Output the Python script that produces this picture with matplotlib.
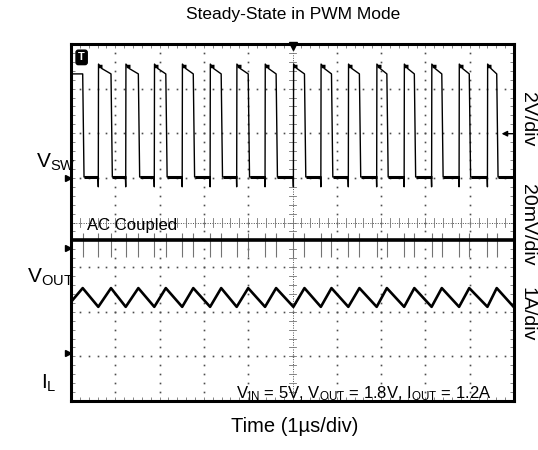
import numpy as np
import matplotlib
matplotlib.use('Agg')
import matplotlib.pyplot as plt

plt.rcParams['font.family'] = ['Liberation Sans', 'DejaVu Sans']
plt.rcParams['mathtext.fontset'] = 'custom'
plt.rcParams['mathtext.rm'] = 'Liberation Sans'
plt.rcParams['mathtext.it'] = 'Liberation Sans'

# Scope screen: 10 x 8 divisions, all values below are in divisions
N_XDIV, N_YDIV = 10, 8

# Switch node edges (time in div)
fall_edges = [0.264, 0.903, 1.52, 2.14, 2.76, 3.39, 4.00, 4.63, 5.27, 5.88,
              6.51, 7.13, 7.75, 8.37, 8.99, 9.61]
rise_edges = [0.616, 1.235, 1.88, 2.51, 3.14, 3.74, 4.38, 5.02, 5.64, 6.26,
              6.90, 7.52, 8.14, 8.76, 9.40]

# Trace levels (div)
VSW_LOW, VSW_DIP, VSW_PEAK, VSW_HIGH = 5.02, 4.80, 7.55, 7.33
VOUT_LEVEL, VOUT_SPIKE_LO, VOUT_SPIKE_HI = 3.61, 3.22, 3.76
IL_VALLEY, IL_PEAK, IL_START, IL_END = 2.11, 2.53, 2.22, 2.10

# Channel ground markers on the left edge and the trigger level arrow
ground_markers = [5.00, 3.43, 1.08]
trigger_level = 5.99

channel_labels = [(r'V$_{\mathrm{SW}}$', 56, 162), (r'V$_{\mathrm{OUT}}$', 50, 277),
                  (r'I$_{\mathrm{L}}$', 49, 383)]
scale_labels = [('2V/div', 119), ('20mV/div', 225), ('1A/div', 314)]
conditions = r'V$_{\mathrm{IN}}$ = 5V, V$_{\mathrm{OUT}}$ = 1.8V, I$_{\mathrm{OUT}}$ = 1.2A'

W, H = 538, 450


def build_vsw():
    t, v = [0.0], [VSW_HIGH]
    for i, f in enumerate(fall_edges):
        t += [f, f + 0.03]
        v += [VSW_HIGH, VSW_LOW]
        if i < len(rise_edges):
            r = rise_edges[i]
            t += [r - 0.006, r, r + 0.005, r + 0.08]
            v += [VSW_LOW, VSW_DIP, VSW_PEAK, VSW_PEAK - 0.1]
    t.append(N_XDIV)
    v.append(VSW_LOW)
    return t, v


def build_il():
    t, v = [0.0], [IL_START]
    for i, f in enumerate(fall_edges):
        t.append(f)
        v.append(IL_PEAK)
        if i < len(rise_edges):
            t.append(rise_edges[i])
            v.append(IL_VALLEY)
    t.append(N_XDIV)
    v.append(IL_END)
    return t, v


def draw_graticule(ax):
    dot_y = np.arange(0, N_YDIV + 0.01, 0.2)
    dot_x = np.arange(0, N_XDIV + 0.01, 0.2)
    for k in range(1, N_XDIV):
        if k == N_XDIV // 2:
            continue
        ax.plot(np.full_like(dot_y, k), dot_y, ls='none', marker='s', ms=1.2,
                color='0.3', mew=0)
    for k in range(1, N_YDIV):
        if k == N_YDIV // 2:
            continue
        ax.plot(dot_x, np.full_like(dot_x, k), ls='none', marker='s', ms=1.2,
                color='0.3', mew=0)
    # centre crosshair with its little ticks
    cx, cy = N_XDIV / 2, N_YDIV / 2
    ax.plot([cx, cx], [0, N_YDIV], ls=(0, (1, 1.5)), lw=0.7, color='0.3')
    ax.plot([0, N_XDIV], [cy, cy], ls=(0, (1, 1.5)), lw=0.7, color='0.3')
    for y in dot_y:
        ax.plot([cx - 0.07, cx + 0.07], [y, y], lw=0.6, color='0.45')
    for x in dot_x:
        ax.plot([x, x], [cy - 0.09, cy + 0.09], lw=0.6, color='0.45')


fig = plt.figure(figsize=(W / 100, H / 100), dpi=100)
ax = fig.add_axes([71 / W, 49 / H, 443 / W, 357 / H])
ax.set_xlim(0, N_XDIV)
ax.set_ylim(0, N_YDIV)
ax.set_xticks(np.arange(0, N_XDIV + 0.01, 0.2))
ax.set_yticks(np.arange(0, N_YDIV + 0.01, 0.2))
ax.tick_params(direction='in', length=3, width=0.6, color='0.45',
               top=True, right=True, labelbottom=False, labelleft=False)
for s in ax.spines.values():
    s.set_linewidth(2.2)

draw_graticule(ax)

# CH1: switch node
t, v = build_vsw()
ax.plot(t, v, color='black', lw=1.0)
lows_start = [f + 0.03 for f in fall_edges]
lows_end = rise_edges + [N_XDIV]
ax.hlines([VSW_LOW] * len(lows_start), lows_start, lows_end, color='black', lw=2.2)
ax.hlines([VSW_PEAK - 0.05] * len(rise_edges), rise_edges,
          [r + 0.09 for r in rise_edges], color='black', lw=2.5)

# CH2: output voltage, AC coupled
edges = sorted(fall_edges + rise_edges)
ax.vlines(edges, VOUT_SPIKE_LO, VOUT_SPIKE_HI, color='0.45', lw=0.8)
ax.hlines(VOUT_LEVEL, 0, N_XDIV, color='black', lw=2.6)

# CH3: inductor current
t, v = build_il()
ax.plot(t, v, color='black', lw=1.9)

# markers around the screen
for g in ground_markers:
    ax.plot(-0.07, g, marker='>', ms=5, color='black', clip_on=False)
ax.plot(N_XDIV / 2, N_YDIV - 0.05, marker='v', ms=6, color='black', clip_on=False)
ax.annotate('', xy=(N_XDIV - 0.28, trigger_level), xytext=(N_XDIV, trigger_level),
            arrowprops=dict(arrowstyle='-|>', color='black', lw=1.0,
                            mutation_scale=8, shrinkA=0, shrinkB=0))
ax.text(0.24, 7.7, 'T', color='white', fontsize=8, fontweight='bold',
        ha='center', va='center',
        bbox=dict(boxstyle='round,pad=0.2', fc='black', ec='black'))

ax.text(0.36, 3.93, 'AC Coupled', fontsize=12, ha='left', va='center')
ax.text(3.72, 0.06, conditions, fontsize=12, ha='left', va='baseline')

# labels outside the screen
fig.text(293 / W, 1 - 15 / H, 'Steady-State in PWM Mode', fontsize=12.5,
         ha='center', va='center')
fig.text(295 / W, 1 - 432 / H, 'Time (1\u00b5s/div)', fontsize=14.5,
         ha='center', va='baseline')
for lab, x, y in channel_labels:
    fig.text(x / W, 1 - y / H, lab, fontsize=15, ha='center', va='center')
for lab, y in scale_labels:
    fig.text(527 / W, 1 - y / H, lab, fontsize=14, rotation=-90,
             ha='center', va='center')

fig.savefig('out.png', dpi=100)
